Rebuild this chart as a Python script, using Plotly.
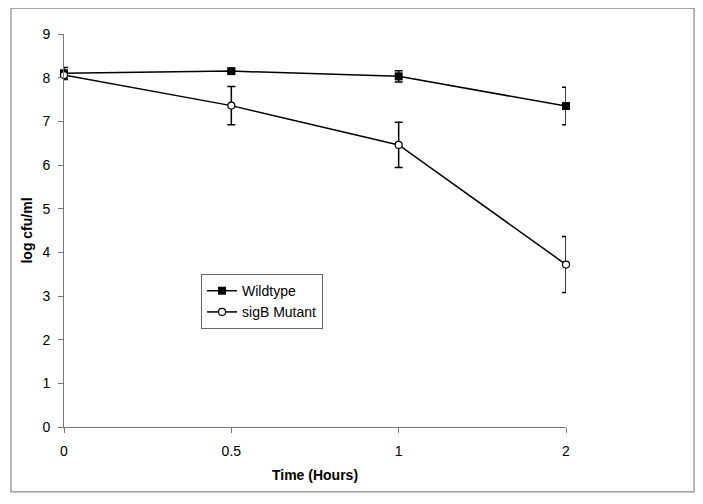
import plotly.graph_objects as go

time_labels = ["0", "0.5", "1", "2"]
wildtype = [8.10, 8.15, 8.03, 7.35]
wildtype_err = [0.13, 0.05, 0.13, 0.43]
mutant = [8.06, 7.36, 6.46, 3.72]
mutant_err = [0.10, 0.44, 0.52, 0.64]

fig = go.Figure()
fig.add_trace(go.Scatter(
    x=time_labels, y=wildtype, name="Wildtype", mode="lines+markers",
    line=dict(color="black", width=1.5),
    marker=dict(symbol="square", size=8, color="black"),
    error_y=dict(type="data", array=wildtype_err, color="black", thickness=1.5, width=4),
    cliponaxis=False,
))
fig.add_trace(go.Scatter(
    x=time_labels, y=mutant, name="sigB Mutant", mode="lines+markers",
    line=dict(color="black", width=1.5),
    marker=dict(symbol="circle", size=7, color="white", line=dict(color="black", width=1.2)),
    error_y=dict(type="data", array=mutant_err, color="black", thickness=1.5, width=4),
    cliponaxis=False,
))

font = "Liberation Sans, Arial, sans-serif"
fig.update_layout(
    width=695, height=496,
    margin=dict(l=56, r=137, t=26, b=77),
    paper_bgcolor="white", plot_bgcolor="white",
    font=dict(family=font, size=14, color="black"),
    showlegend=True,
    legend=dict(x=0.273, y=0.389, xanchor="left", yanchor="top",
                bordercolor="#666666", borderwidth=1, bgcolor="white",
                font=dict(size=14), tracegroupgap=0, itemwidth=30),
    xaxis=dict(type="category", range=[0, 3], showgrid=False, zeroline=False,
               showline=True, linecolor="#777777", linewidth=1,
               ticks="outside", ticklen=5, tickcolor="#777777",
               ticklabelstandoff=6,
               title=dict(text="<b>Time (Hours)</b>", font=dict(size=14), standoff=12)),
    yaxis=dict(range=[0, 9], dtick=1, showgrid=False, zeroline=False,
               showline=True, linecolor="#777777", linewidth=1,
               ticks="outside", ticklen=5, tickcolor="#777777",
               ticklabelstandoff=5,
               title=dict(text="<b>log cfu/ml</b>", font=dict(size=14), standoff=6)),
    shapes=[dict(type="rect", xref="paper", yref="paper",
                 x0=-0.1056, x1=1.255, y0=-0.165, y1=1.066,
                 line=dict(color="#888888", width=1.2))],
)

fig.write_html("out.html")
